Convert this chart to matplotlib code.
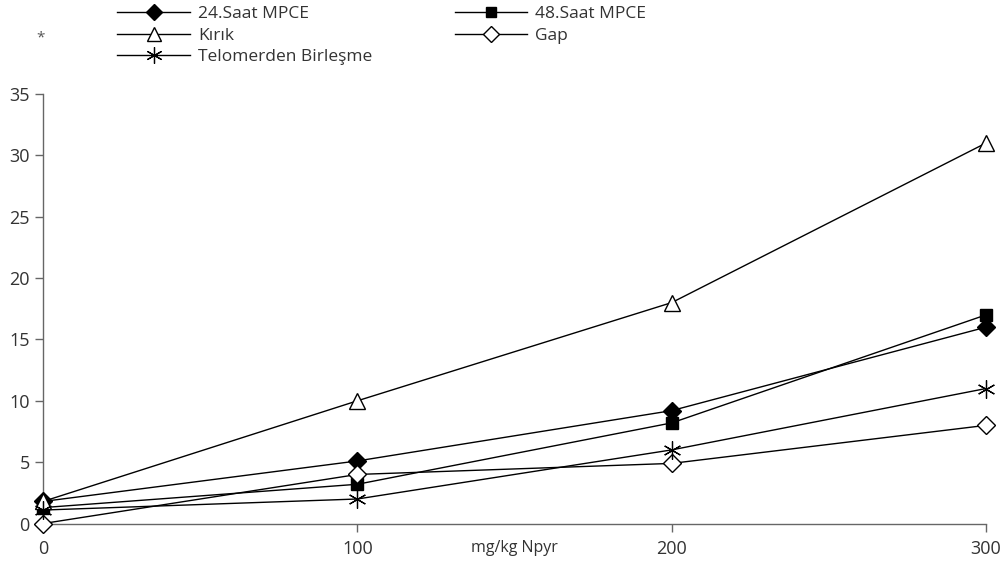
import matplotlib
matplotlib.use("Agg")
import matplotlib.pyplot as plt

plt.rcParams['font.family'] = ['Open Sans', 'DejaVu Sans']

doses = [0, 100, 200, 300]
mpce24 = [1.8, 5.1, 9.2, 16.0]
mpce48 = [1.3, 3.2, 8.2, 17.0]
kirik = [1.8, 10.0, 18.0, 31.0]
gap = [0.0, 4.0, 4.9, 8.0]
telomer = [1.1, 2.0, 6.0, 11.0]

labels = ["24.Saat MPCE", "48.Saat MPCE", "Kırık", "Gap", "Telomerden Birleşme"]
yticks = [0, 5, 10, 15, 20, 25, 30, 35]
xticks = [0, 100, 200, 300]

fig = plt.figure(figsize=(10.01, 5.66), dpi=100)
ax = fig.add_axes([0.043, 0.075, 0.942, 0.759])

common = dict(color='black', lw=1.0, clip_on=False, zorder=3)
h24, = ax.plot(doses, mpce24, marker='D', ms=9.5, mfc='black', mec='black', **common)
h48, = ax.plot(doses, mpce48, marker='s', ms=8.5, mfc='black', mec='black', **common)
hk, = ax.plot(doses, kirik, marker='^', ms=11.5, mfc='white', mec='black', mew=1.0, **common)
hg, = ax.plot(doses, gap, marker='D', ms=9.5, mfc='white', mec='black', mew=1.0, **common)
ht, = ax.plot(doses, telomer, marker=(6, 2, 0), ms=13, mec='black', mew=0.9, **common)

ax.set_xlim(0, 300)
ax.set_ylim(0, 35)
ax.set_xticks(xticks)
ax.set_yticks(yticks)
for s in ['top', 'right']:
    ax.spines[s].set_visible(False)
for s in ['left', 'bottom']:
    ax.spines[s].set_color('#666666')
    ax.spines[s].set_linewidth(1.0)
ax.tick_params(axis='both', colors='#666666', labelcolor='#333333', labelsize=13, length=6, width=1.0)
ax.tick_params(axis='x', pad=6)

ax.set_xlabel("mg/kg Npyr", fontsize=11.5, color='#333333')
ax.xaxis.set_label_coords(0.5, -0.057)
ax.xaxis.label.set_va('center')

leg = fig.legend([h24, hk, ht, h48, hg],
                 [labels[0], labels[2], labels[4], labels[1], labels[3]],
                 ncol=2, loc='upper left', bbox_to_anchor=(0.117, 0.989),
                 borderaxespad=0.0, borderpad=0.0,
                 frameon=False, fontsize=12.5, handlelength=4.2, handletextpad=0.45,
                 columnspacing=4.75, labelspacing=0.3, labelcolor='#333333',
                 markerscale=0.9)

fig.text(0.04, 0.933, "*", fontsize=11, color='#555555', ha='center', va='center')

fig.savefig("out.png", dpi=100)
